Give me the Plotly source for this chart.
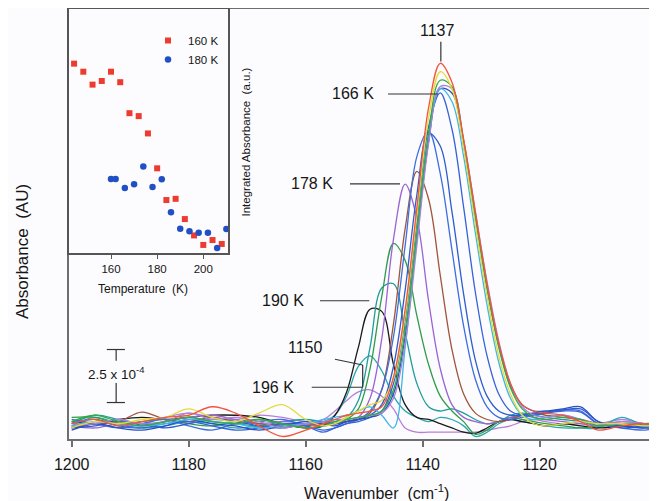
import plotly.graph_objects as go

# ---------------- data ----------------
wavenumber = [1200, 1196, 1192, 1188, 1184, 1180, 1176, 1172, 1168, 1164, 1160,
              1157, 1155,
              1153, 1151, 1149, 1147, 1145, 1143, 1141, 1139, 1137, 1135, 1133,
              1131, 1129, 1127, 1125, 1123, 1121, 1119,
              1116, 1113, 1110, 1106, 1102, 1100]

# absorbance in units of 1e-4 (scale bar = 2.5 units)
spec_red = [0.2, 0.4, 0.1, 0.3, 0.5, 0.6, 1.0, 0.7, 0.1, -0.4, -0.1,
            0.2, 0.4,
            0.6, 0.7, 0.8, 1.0, 2.4, 5.6, 10.4, 15.1, 17.2, 16.3, 13.6, 10.2, 6.8, 4.0, 2.1, 1.1, 0.8, 0.7,
            0.6, 0.3, -0.1, 0.1, 0.2, 0.1]
spec_yellow = [0.0, 0.3, 0.2, 0.4, 0.5, 0.9, 0.5, 0.3, 0.7, 1.1, 0.4,
               0.1, 0.2,
               0.5, 0.8, 1.1, 1.3, 2.3, 5.3, 10.0, 14.6, 16.8, 16.0, 13.2, 9.6, 6.2, 3.4, 1.6, 0.6, 0.2, 0.1,
               0.2, 0.3, 0.2, 0.2, 0.1, 0.1]
spec_green = [0.3, 0.6, 0.3, 0.1, 0.3, 0.5, 0.3, 0.2, 0.4, 0.2, 0.0,
              0.1, 0.3,
              0.4, 0.5, 0.6, 0.8, 1.8, 4.6, 9.2, 13.9, 16.4, 16.1, 13.5, 10.0, 6.6, 3.8, 1.9, 0.9, 0.5, 0.4,
              0.5, 0.4, 0.1, 0.2, 0.2, 0.3]
spec_lavender = [0.1, 0.2, 0.4, 0.2, 0.3, 0.7, 0.4, 0.5, 0.3, 0.0, 0.2,
                 0.3, 0.4,
                 0.4, 0.5, 0.6, 0.7, 1.4, 4.0, 8.6, 13.4, 16.1, 16.0, 13.6, 10.2, 6.9, 4.1, 2.1, 1.0, 0.6, 0.5,
                 0.6, 0.4, 0.2, 0.3, 0.2, 0.2]
spec_darkblue = [-0.1, 0.2, 0.0, -0.1, 0.1, 0.4, 0.2, 0.1, -0.1, 0.1, 0.3,
                 0.2, 0.1,
                 0.3, 0.4, 0.5, 0.7, 1.6, 4.3, 8.9, 13.5, 16.0, 15.8, 13.3, 9.9, 6.6, 3.9, 2.0, 1.1, 0.8, 0.8,
                 0.9, 1.0, 0.3, 0.1, 0.0, 0.1]
spec_cyan = [0.1, 0.3, 0.2, 0.1, 0.2, 0.4, 0.3, 0.2, 0.0, 0.1, 0.2,
             0.4, 0.5,
             0.6, 0.8, 1.0, 0.6, 0.0, 3.8, 9.0, 13.8, 16.0, 15.4, 12.8, 9.2, 5.8, 3.1, 1.4, 0.6, 0.4, 0.5,
             0.6, 0.4, 0.1, 0.2, 0.1, 0.1]
spec_166K = [0.2, 0.4, 0.1, 0.0, 0.2, 0.3, 0.1, -0.1, 0.0, 0.2, 0.1,
             -0.1, 0.0,
             0.2, 0.3, 0.5, 0.8, 2.1, 5.1, 9.7, 14.2, 15.8, 14.1, 10.4, 6.4, 3.4, 1.6, 0.8, 0.6, 0.6, 0.7,
             0.8, 0.75, 0.2, 0.1, 0.0, 0.0]
spec_blue_a = [0.0, 0.1, 0.3, 0.2, 0.0, 0.2, 0.4, 0.3, 0.1, 0.0, 0.2,
               0.3, 0.2,
               0.3, 0.4, 0.6, 1.1, 2.9, 6.5, 11.0, 13.9, 13.3, 10.2, 6.3, 3.2, 1.5, 0.8, 0.6, 0.6, 0.7, 0.75,
               0.85, 0.9, 0.3, 0.0, 0.1, 0.0]
spec_blue_b = [0.4, 0.2, 0.0, 0.2, 0.4, 0.1, -0.1, 0.2, 0.3, 0.4, 0.1,
               -0.2, 0.0,
               0.2, 0.4, 0.8, 1.8, 4.3, 8.6, 12.8, 14.0, 12.0, 8.4, 4.8, 2.3, 1.0, 0.5, 0.4, 0.5, 0.6, 0.7,
               0.85, 0.8, 0.2, 0.0, -0.1, 0.0]
spec_brown = [0.0, 0.2, 0.3, 0.75, 0.4, 0.3, 0.5, 0.3, 0.2, 0.1, 0.1,
              0.2, 0.2,
              0.3, 0.4, 0.7, 1.8, 4.9, 9.4, 12.1, 10.8, 7.2, 3.7, 1.6, 0.7, 0.4, 0.3, 0.4, 0.6, 0.7, 0.6,
              0.5, 0.4, 0.2, 0.1, 0.1, 0.0]
spec_178K = [0.1, 0.0, 0.2, 0.1, 0.3, 0.5, 0.6, 0.4, 0.2, 0.3, 0.2,
             0.1, 0.2,
             0.3, 0.5, 1.4, 4.2, 8.9, 11.5, 9.9, 6.0, 2.8, 1.1, 0.5, 0.3, 0.2, 0.3, 0.5, 0.6, 0.5, 0.4,
             0.3, 0.2, 0.1, 0.3, 0.2, 0.1]
spec_green2 = [0.5, 0.5, 0.2, 0.3, 0.4, 0.2, 0.1, 0.3, 0.4, 0.2, 0.0,
               0.1, 0.2,
               0.4, 0.9, 2.8, 6.2, 8.7, 7.9, 5.3, 3.0, 1.5, 0.8, 0.3, -0.3, -0.1, 0.3, 0.5, 0.4, 0.3, 0.2,
               0.1, 0.0, 0.1, 0.2, 0.1, 0.2]
spec_teal1 = [0.2, 0.6, 0.4, 0.2, 0.3, 0.5, 0.3, 0.2, 0.1, 0.3, 0.4,
              0.3, 0.3,
              0.5, 1.3, 3.8, 6.6, 6.8, 4.5, 2.1, 1.0, 0.8, 0.9, 0.7, 0.4, 0.2, 0.3, 0.6, 0.7, 0.6, 0.5,
              0.4, 0.3, 0.1, 0.2, 0.1, 0.2]
spec_190K = [0.3, 0.2, 0.4, 0.5, 0.4, 0.5, 0.6, 0.6, 0.5, 0.2, 0.0,
             0.1, 0.6,
             1.7, 3.8, 5.6, 5.5, 3.0, 1.1, 0.5, 0.4, 0.2, 0.0, -0.2, -0.25, 0.0, 0.3, 0.4, 0.3, 0.2, 0.1,
             0.2, 0.1, 0.0, 0.1, 0.2, 0.1]
spec_teal2 = [0.1, 0.5, 0.2, 0.0, 0.1, 0.3, 0.2, 0.0, 0.1, 0.2, 0.2,
              0.3, 0.6,
              1.5, 2.9, 3.4, 2.7, 1.5, 0.8, 0.5, 0.3, 0.5, 0.4, 0.1, -0.4, -0.2, 0.2, 0.4, 0.3, 0.2, 0.1,
              0.0, 0.0, 0.0, 0.5, 0.1, 0.1]
spec_196K = [0.0, 0.3, 0.3, 0.2, 0.5, 0.7, 0.5, 0.4, 0.6, 0.5, 0.3,
             0.4, 0.8,
             1.3, 1.7, 1.8, 1.5, 0.9, 0.0, -0.2, -0.2, -0.2, -0.2, -0.2, -0.2, -0.1, 0.0, 0.1, 0.3, 0.4, 0.3,
             0.2, 0.3, 0.2, 0.4, 0.2, 0.2]

# inset: integrated absorbance (a.u.)
temp_160 = [144, 148, 152, 156, 160, 164, 168, 172, 176, 180, 184, 188, 192, 196, 200, 204, 208]
intabs_160 = [0.776, 0.743, 0.690, 0.705, 0.743, 0.700, 0.573, 0.561, 0.490, 0.347,
              0.217, 0.222, 0.139, 0.072, 0.033, 0.053, 0.037]
temp_180 = [160, 162, 166, 170, 174, 178, 182, 186, 190, 194, 198, 202, 206, 210]
intabs_180 = [0.303, 0.303, 0.266, 0.282, 0.354, 0.270, 0.302, 0.167, 0.099, 0.089,
              0.083, 0.083, 0.020, 0.098]

x_ticks = [1200, 1180, 1160, 1140, 1120, 1100]
inset_ticks = [160, 180, 200]

# ---------------- styles ----------------
spectra = [
    (spec_196K, "#b77ed8"),
    (spec_teal2, "#27a6ae"),
    (spec_190K, "#1a1a1a"),
    (spec_teal1, "#1f9c9c"),
    (spec_green2, "#2f9c4a"),
    (spec_178K, "#9a64d2"),
    (spec_brown, "#a0553a"),
    (spec_blue_b, "#3c6ee0"),
    (spec_blue_a, "#2d5ccc"),
    (spec_166K, "#3463d6"),
    (spec_darkblue, "#2a4fbf"),
    (spec_cyan, "#3fb6e6"),
    (spec_lavender, "#a884d8"),
    (spec_green, "#33a845"),
    (spec_yellow, "#e2dc3a"),
    (spec_red, "#f4533c"),
]

FONT = "Liberation Sans, Arial, Helvetica, sans-serif"
AXIS_COL = "#6e6e6e"

fig = go.Figure()
for ys, col in spectra:
    fig.add_trace(go.Scatter(x=wavenumber, y=ys, mode="lines",
                             line=dict(color=col, width=1.3, shape="spline", smoothing=1.0),
                             showlegend=False, hoverinfo="skip"))

fig.add_trace(go.Scatter(x=temp_160, y=intabs_160, mode="markers", name="160 K",
                         marker=dict(symbol="square", size=6, color="#ee3b2f"),
                         xaxis="x2", yaxis="y2", cliponaxis=False))
fig.add_trace(go.Scatter(x=temp_180, y=intabs_180, mode="markers", name="180 K",
                         marker=dict(symbol="circle", size=6.5, color="#2050c4"),
                         xaxis="x2", yaxis="y2", cliponaxis=False))

txt = dict(family=FONT, size=16, color="#161616")
annotations = [
    dict(x=1137.55, y=18.74, text="1137"),
    dict(x=1152.0, y=15.79, text="166 K"),
    dict(x=1159.0, y=11.51, text="178 K"),
    dict(x=1163.9, y=6.0, text="190 K"),
    dict(x=1160.1, y=3.79, text="1150"),
    dict(x=1165.6, y=1.92, text="196 K"),
]
for a in annotations:
    a.update(xref="x", yref="y", showarrow=False, font=txt)
annotations.append(dict(x=1192.4, y=2.61, xref="x", yref="y", showarrow=False,
                        text="2.5 x 10<sup>-4</sup>", font=dict(family=FONT, size=13.5, color="#161616")))
annotations += [
    dict(x=-0.0782, y=0.4349, xref="paper", yref="paper", showarrow=False, textangle=-90,
         text="Absorbance  (AU)", font=dict(family=FONT, size=17, color="#161616")),
    dict(x=0.5226, y=-0.1226, xref="paper", yref="paper", showarrow=False,
         text="Wavenumber  (cm<sup>-1</sup>)", font=dict(family=FONT, size=16, color="#161616")),
    dict(x=0.1264, y=0.3481, xref="paper", yref="paper", showarrow=False,
         text="Temperature  (K)", font=dict(family=FONT, size=12, color="#161616")),
    dict(x=0.3002, y=0.6907, xref="paper", yref="paper", showarrow=False, textangle=-90,
         text="Integrated Absorbance  (a.u.)", font=dict(family=FONT, size=11.5, color="#161616")),
]
for a in annotations:
    a.update(xanchor="center", yanchor="middle")

line_style = dict(color="#333333", width=1.2)
segments = [
    (1136.9, 17.28, 1136.9, 18.22),
    (1145.93, 15.75, 1137.38, 15.75),
    (1152.43, 11.51, 1143.88, 11.51),
    (1157.55, 6.0, 1149.13, 6.0),
    (1155.0, 3.24, 1150.26, 2.97),
    (1150.26, 2.97, 1150.26, 1.92),
    (1158.97, 1.92, 1150.26, 1.92),
    (1192.4, 1.2, 1192.4, 2.12),
    (1192.4, 3.17, 1192.4, 3.7),
    (1194.0, 3.7, 1190.9, 3.7),
    (1194.0, 1.2, 1190.9, 1.2),
]
shapes = [dict(type="line", xref="x", yref="y", x0=a, y0=b, x1=c, y1=d, line=line_style)
          for a, b, c, d in segments]

fig.update_layout(
    width=649, height=493,
    margin=dict(l=61, r=0, t=1, b=62),
    paper_bgcolor="#fcfcfe", plot_bgcolor="#fcfcfe",
    font=dict(family=FONT, color="#161616"),
    xaxis=dict(domain=[0, 1], range=[1200.46, 1099.95], tickvals=x_ticks,
               ticks="outside", ticklen=6, tickwidth=1.5, tickcolor=AXIS_COL,
               ticklabelstandoff=4,
               showline=True, linecolor=AXIS_COL, linewidth=2, mirror=True,
               showgrid=False, zeroline=False, automargin=False,
               tickfont=dict(family=FONT, size=16, color="#161616")),
    yaxis=dict(domain=[0, 1], range=[-0.52, 19.76], showticklabels=False, ticks="",
               showline=True, linecolor=AXIS_COL, linewidth=2,
               showgrid=False, zeroline=False, automargin=False),
    xaxis2=dict(domain=[0, 0.27], anchor="y2", range=[141.8, 210.6], tickvals=inset_ticks,
                ticks="outside", ticklen=4, tickwidth=1.2, tickcolor="#555555",
                showline=True, linecolor="#555555", linewidth=1.5, mirror=True,
                showgrid=False, zeroline=False, automargin=False,
                tickfont=dict(family=FONT, size=11.5, color="#161616")),
    yaxis2=dict(domain=[0.4326, 1], anchor="x2", range=[0, 1], showticklabels=False, ticks="",
                showline=True, linecolor="#555555", linewidth=1.5, mirror=True,
                showgrid=False, zeroline=False, automargin=False),
    showlegend=True,
    legend=dict(x=0.1344, y=0.9605, xanchor="left", yanchor="top", bgcolor="rgba(0,0,0,0)",
                font=dict(family=FONT, size=11.5, color="#161616"), tracegroupgap=0),
    annotations=annotations,
    shapes=shapes,
)

fig.write_html("out.html")
